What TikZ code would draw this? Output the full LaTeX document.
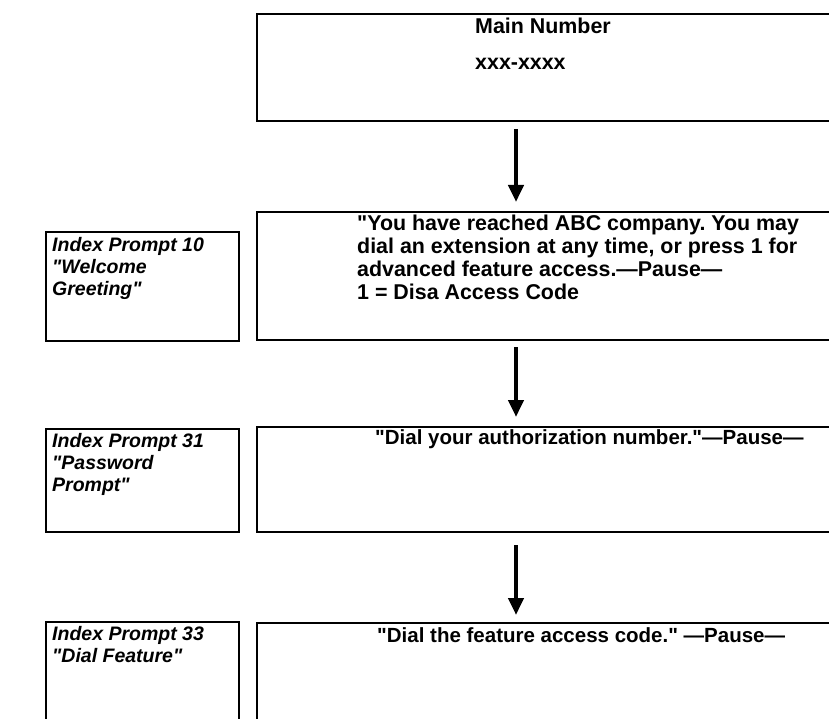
\documentclass[tikz,border=0pt]{standalone}
\usepackage{fontspec}
\setmainfont{Liberation Sans}
\usetikzlibrary{arrows.meta}
\newcommand{\dq}{\textquotedbl}
\frenchspacing
\begin{document}
\begin{tikzpicture}[x=1pt,y=-1pt,
  box/.style={draw=black,line width=1.4pt},
  flow/.style={line width=4.2pt,-{Triangle[length=17pt,width=15pt]}},
  maintext/.style={font=\fontsize{20.5}{23}\selectfont\bfseries\frenchspacing,align=left,anchor=west,inner sep=0pt},
  bigtext/.style={maintext,font=\fontsize{21.4}{23}\selectfont\bfseries\frenchspacing},
  lefttext/.style={font=\fontsize{19.5}{22}\selectfont\bfseries\itshape,align=left,anchor=north west,inner sep=0pt}]
\useasboundingbox (0,0) rectangle (829,719);
% main boxes (open on the right / bottom where the picture is cut)
\draw[box] (840,14) -- (257,14) -- (257,121) -- (840,121);
\draw[box] (840,212) -- (257,212) -- (257,340) -- (840,340);
\draw[box] (840,427) -- (257,427) -- (257,532) -- (840,532);
\draw[box] (840,623) -- (257,623) -- (257,730);
% left boxes
\draw[box] (46,232) rectangle (239,341);
\draw[box] (46,429) rectangle (239,532);
\draw[box] (46,730) -- (46,622) -- (239,622) -- (239,730);
% arrow ends
\coordinate (a1s) at (516,129); \coordinate (a1e) at (516,202);
\coordinate (a2s) at (516,347); \coordinate (a2e) at (516,417);
\coordinate (a3s) at (516,545); \coordinate (a3e) at (516,615);
\draw[flow] (a1s) -- (a1e);
\draw[flow] (a2s) -- (a2e);
\draw[flow] (a3s) -- (a3e);
% main texts
\node[bigtext] (t1a) at (475,26) {Main Number};
\node[bigtext] (t1b) at (475,64) {xxx-xxxx};
\node[bigtext,anchor=north west] (t2) at (357,215) {\dq You have reached ABC company. You may\\dial an extension at any time, or press 1 for\\advanced feature access.---Pause---\\1 = Disa Access Code};
\node[maintext] (t3) at (375,439) {\dq Dial your authorization number.\dq---Pause---};
\node[maintext] (t4) at (377,635) {\dq Dial the feature access code.\dq{} ---Pause---};
% left texts
\node[lefttext] (l1) at (52,237) {Index Prompt 10\\\dq Welcome\\Greeting\dq};
\node[lefttext] (l2) at (52,433) {Index Prompt 31\\\dq Password\\Prompt\dq};
\node[lefttext] (l3) at (52,626) {Index Prompt 33\\\dq Dial Feature\dq};
\end{tikzpicture}
\end{document}
